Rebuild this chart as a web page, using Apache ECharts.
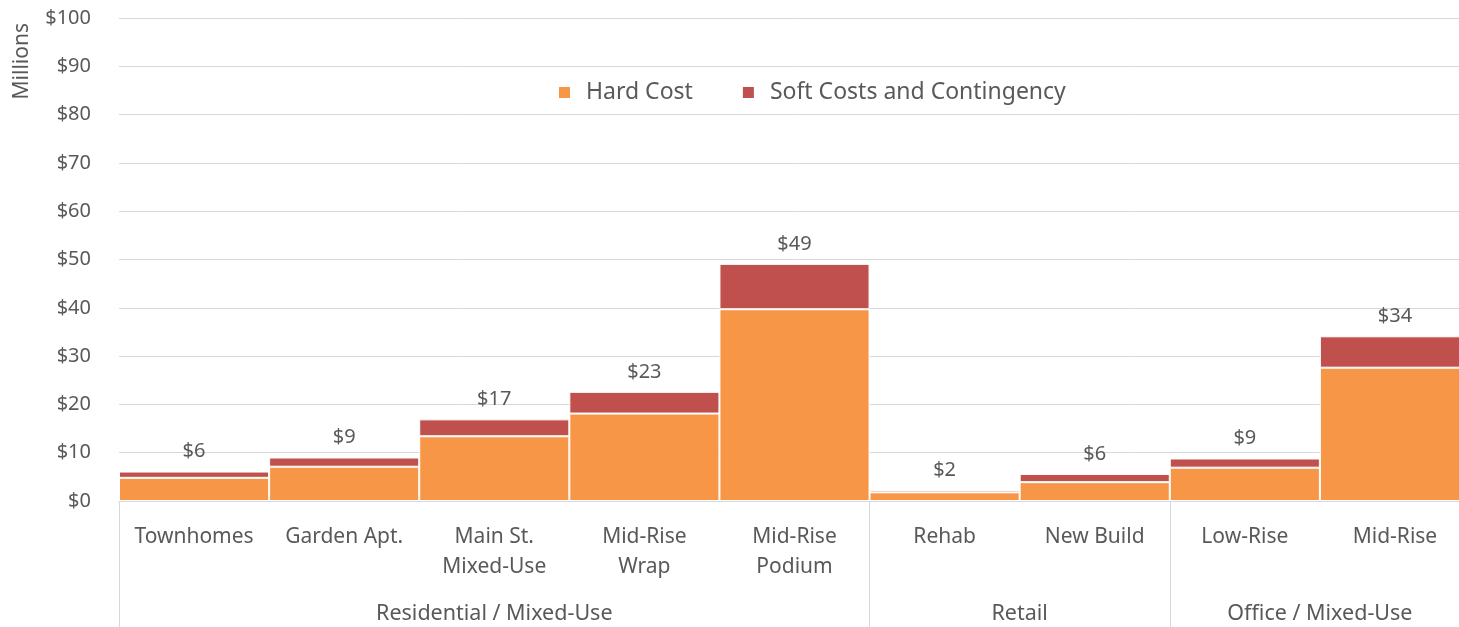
<!DOCTYPE html>
<html>
<head>
<meta charset="utf-8">
<script src="https://cdn.jsdelivr.net/npm/echarts@6/dist/echarts.min.js"></script>
<style>
  html, body { margin: 0; padding: 0; background: #fff; overflow: hidden; }
  /* the last category runs slightly past the right edge of the window */
  #chart { width: 1470px; height: 627px; }
</style>
</head>
<body>
<div id="chart"></div>
<script>
// Development cost by building type, in millions of dollars
const categories = ['Townhomes', 'Garden Apt.', 'Main St.\nMixed-Use', 'Mid-Rise\nWrap', 'Mid-Rise\nPodium', 'Rehab', 'New Build', 'Low-Rise', 'Mid-Rise'];
const hardCost = [4.8, 7.1, 13.4, 18.1, 39.7, 1.8, 3.9, 6.9, 27.6];
const softCost = [1.3, 1.9, 3.5, 4.5, 9.4, 0.5, 1.7, 1.9, 6.5];
const groups = ['Residential / Mixed-Use', 'Retail', 'Office / Mixed-Use'];
const groupSizes = [5, 2, 2];
const yTicks = [0, 10, 20, 30, 40, 50, 60, 70, 80, 90, 100];

const FONT = '"Noto Sans", "Open Sans", sans-serif';
const GREY = '#595959';

// group boundaries and centres in category units
const groupEdges = [0];
groupSizes.forEach(n => groupEdges.push(groupEdges[groupEdges.length - 1] + n));
const groupCentres = groups.map((g, i) => (groupEdges[i] + groupEdges[i + 1]) / 2);

const totals = hardCost.map((h, i) => h + softCost[i]);

const chart = echarts.init(document.getElementById('chart'), null, { renderer: 'canvas' });
chart.setOption({
  animation: false,
  textStyle: { fontFamily: FONT },
  grid: { left: 119, right: 0, top: 18, bottom: 126, containLabel: false },
  legend: {
    top: 81,
    left: 557,
    padding: 0,
    itemWidth: 13,
    itemHeight: 13,
    itemGap: 48,
    icon: 'rect',
    textStyle: { fontSize: 23, color: GREY, fontFamily: FONT, padding: [0, 0, 0, 10] },
    data: ['Hard Cost', 'Soft Costs and Contingency']
  },
  graphic: [{
    type: 'text',
    left: 12,
    top: 23,
    rotation: Math.PI / 2,
    style: { text: 'Millions', fontSize: 21, fill: GREY, fontFamily: FONT }
  }],
  xAxis: [{
    type: 'category',
    data: categories,
    axisLine: { show: true, lineStyle: { color: '#D9D9D9', width: 1 } },
    axisTick: { show: false },
    axisLabel: {
      interval: 0, fontSize: 21, color: GREY, margin: 21, lineHeight: 30, fontFamily: FONT
    }
  }, {
    type: 'value',
    min: 0,
    max: categories.length,
    position: 'bottom',
    splitLine: { show: false },
    axisLine: { show: false },
    axisTick: {
      show: true, length: 130, customValues: groupEdges,
      lineStyle: { color: '#D9D9D9', width: 1 }
    },
    axisLabel: {
      show: true, customValues: groupCentres, fontSize: 21.5, color: GREY, margin: 102,
      fontFamily: FONT,
      formatter: v => {
        const i = groupCentres.indexOf(v);
        return i >= 0 ? groups[i] : '';
      }
    }
  }],
  yAxis: {
    type: 'value',
    min: yTicks[0],
    max: yTicks[yTicks.length - 1],
    interval: yTicks[1] - yTicks[0],
    axisLine: { show: false },
    axisTick: { show: false },
    splitLine: { lineStyle: { color: '#D9D9D9', width: 1 } },
    axisLabel: { fontSize: 20, color: GREY, margin: 28, fontFamily: FONT, formatter: v => '$' + v }
  },
  series: [{
    name: 'Hard Cost',
    type: 'bar',
    stack: 'cost',
    data: hardCost,
    barCategoryGap: '0%',
    itemStyle: { color: '#F79646', borderColor: '#fff', borderWidth: 1 }
  }, {
    name: 'Soft Costs and Contingency',
    type: 'bar',
    stack: 'cost',
    data: softCost,
    barCategoryGap: '0%',
    itemStyle: { color: '#C0504D', borderColor: '#fff', borderWidth: 1 },
    label: {
      show: true,
      position: 'top',
      distance: 10,
      fontSize: 20,
      color: GREY,
      fontFamily: FONT,
      formatter: p => '$' + Math.round(totals[p.dataIndex])
    }
  }]
});
</script>
</body>
</html>
